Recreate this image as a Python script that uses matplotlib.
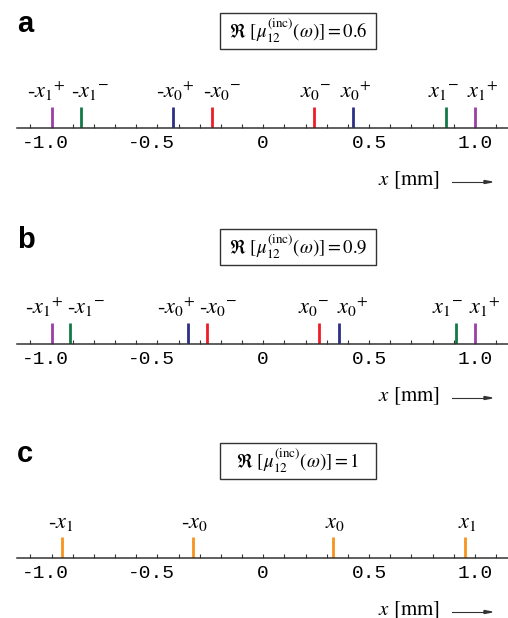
import numpy as np
import matplotlib
matplotlib.use("Agg")
import matplotlib.pyplot as plt
from matplotlib.patches import Rectangle
from matplotlib.transforms import ScaledTranslation

plt.rcParams["mathtext.fontset"] = "stix"
plt.rcParams["font.family"] = ["STIXGeneral", "DejaVu Sans"]

PURPLE = "#9a3fa5"
GREEN = "#137a47"
BLUE = "#2c2f85"
RED = "#ee1c27"
ORANGE = "#f7941d"

# stick positions [mm]
pos_a = [-1.0, -0.86, -0.425, -0.24, 0.24, 0.425, 0.865, 1.0]
pos_b = [-1.0, -0.915, -0.355, -0.264, 0.265, 0.357, 0.91, 1.0]
pos_c = [-0.95, -0.33, 0.33, 0.955]

# where the labels sit (they are spread out where sticks are close)
lab_a = [-1.024, -0.816, -0.417, -0.197, 0.249, 0.438, 0.851, 1.035]
lab_b = [-1.034, -0.835, -0.412, -0.214, 0.237, 0.421, 0.872, 1.047]
lab_c = [-0.958, -0.327, 0.339, 0.962]

labels_pm = [r"-${x_1}^{+}$", r"-${x_1}^{-}$", r"-${x_0}^{+}$", r"-${x_0}^{-}$",
             r"${x_0}^{-}$", r"${x_0}^{+}$", r"${x_1}^{-}$", r"${x_1}^{+}$"]
labels_c = [r"-$x_1$", r"-$x_0$", r"$x_0$", r"$x_1$"]
colors_pm = [PURPLE, GREEN, BLUE, RED, RED, BLUE, GREEN, PURPLE]
colors_c = [ORANGE] * 4

mu_values = ["0.6", "0.9", "1"]
panel_letters = ["a", "b", "c"]

major_ticks = [-1.0, -0.5, 0.0, 0.5, 1.0]
major_labels = ["-1.0", "-0.5", "0", "0.5", "1.0"]
minor_ticks = np.round(np.arange(-1.1, 1.11, 0.1), 2)

W, H = 508, 618
XLIM = (-1.163, 1.156)
STICK_PX = 21
AX_H_PX = 62


def fx(px):
    return px / W


def fy(py):
    return 1 - py / H


def draw_panel(fig, axis_px, pos, lab_pos, labels, colors, mu, letter):
    ax = fig.add_axes([fx(17), fy(axis_px), 1 - fx(17), AX_H_PX / H])
    ax.set_xlim(*XLIM)
    ax.set_ylim(0, AX_H_PX / STICK_PX)
    ax.patch.set_visible(False)
    for s in ["top", "left", "right"]:
        ax.spines[s].set_visible(False)
    ax.spines["bottom"].set_color("#333333")
    ax.spines["bottom"].set_linewidth(1.1)
    ax.set_yticks([])

    ax.set_xticks(major_ticks)
    ax.set_xticks([t for t in minor_ticks if t not in major_ticks], minor=True)
    ax.set_xticklabels(major_labels, family="Liberation Mono", fontsize=14)
    ax.tick_params(axis="x", which="both", direction="in", length=3, width=0.8,
                   color="#333333", pad=5)
    shift = ScaledTranslation(-0.3 * 14 / 72, 0, fig.dpi_scale_trans)
    for lab in ax.get_xticklabels():
        if lab.get_text().startswith("-"):
            lab.set_transform(lab.get_transform() + shift)

    ax.vlines(pos, 0, 1, colors=colors, linewidth=2.0)
    for x, lab in zip(lab_pos, labels):
        ax.text(x, 1.45, lab, ha="center", va="baseline", fontsize=16)

    # value box
    bx0, bx1 = 220, 376
    bc = axis_px - 97
    fig.add_artist(Rectangle((fx(bx0), fy(bc + 18)), fx(bx1 - bx0), 36 / H,
                             transform=fig.transFigure, fill=False,
                             edgecolor="#333333", linewidth=1.0))
    txt = r"$\Re\ [\mu_{12}^{(\mathrm{inc})}(\omega)] = " + mu + "$"
    fig.text(fx(298), fy(bc), txt, ha="center", va="center", fontsize=13.5)

    fig.text(fx(17), fy(axis_px - 96), letter, ha="left", va="baseline",
             family="Liberation Sans", weight="bold", fontsize=21)

    # axis label with arrow
    ly = axis_px + 52
    fig.text(fx(440), fy(ly), r"$x$ [mm]", ha="right", va="center", fontsize=15)
    fig.add_artist(plt.Line2D([fx(452), fx(486)], [fy(ly + 2)] * 2,
                              color="#333333", linewidth=0.8))
    fig.add_artist(plt.Polygon([[fx(484), fy(ly + 0.5)], [fx(492), fy(ly + 2)],
                                [fx(484), fy(ly + 3.5)]], closed=True,
                               color="#333333", transform=fig.transFigure))
    return ax


fig = plt.figure(figsize=(W / 100, H / 100), dpi=100)
draw_panel(fig, 128, pos_a, lab_a, labels_pm, colors_pm, mu_values[0], panel_letters[0])
draw_panel(fig, 344, pos_b, lab_b, labels_pm, colors_pm, mu_values[1], panel_letters[1])
draw_panel(fig, 558, pos_c, lab_c, labels_c, colors_c, mu_values[2], panel_letters[2])

fig.savefig("out.png", dpi=100)
